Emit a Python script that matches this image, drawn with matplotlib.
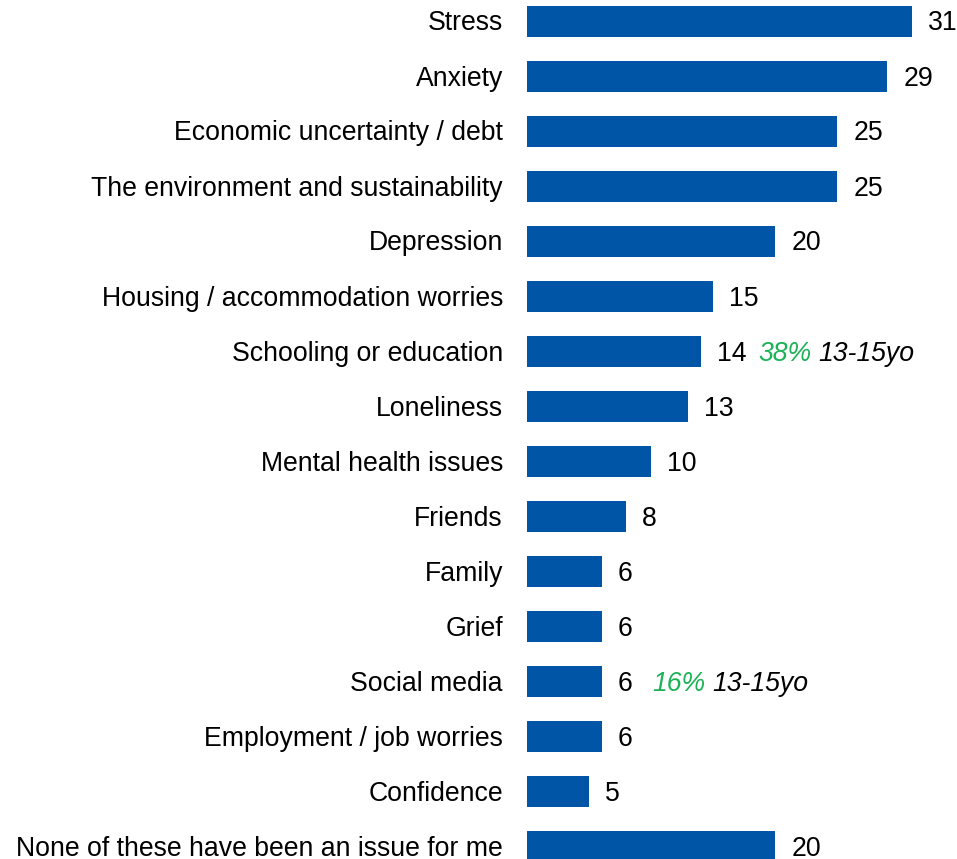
import matplotlib
matplotlib.use("Agg")
import matplotlib.pyplot as plt

categories = [
    "Stress",
    "Anxiety",
    "Economic uncertainty / debt",
    "The environment and sustainability",
    "Depression",
    "Housing / accommodation worries",
    "Schooling or education",
    "Loneliness",
    "Mental health issues",
    "Friends",
    "Family",
    "Grief",
    "Social media",
    "Employment / job worries",
    "Confidence",
    "None of these have been an issue for me",
]
values = [31, 29, 25, 25, 20, 15, 14, 13, 10, 8, 6, 6, 6, 6, 5, 20]

# Age-group callouts: category -> (highlight share, age band)
callouts = {
    "Schooling or education": ("38%", "13-15yo"),
    "Social media": ("16%", "13-15yo"),
}

BAR_COLOR = "#0055A6"
GREEN = "#1DB257"
TEXT = "#000000"
FONT = ["Liberation Sans", "Arial", "DejaVu Sans"]
FS = 19.2

plt.rcParams["font.family"] = FONT

fig = plt.figure(figsize=(9.57, 8.59), dpi=100)
ax = fig.add_axes([0, 0, 1, 1])

px_per_unit = 385 / 31.0
left_px, width_px = 527.0, 957.0
x0 = -left_px / px_per_unit
x1 = (width_px - left_px) / px_per_unit

pos = list(range(len(categories)))
ax.barh(pos, values, height=0.565, color=BAR_COLOR, edgecolor="none")

ax.set_xlim(x0, x1)
step = 55.0
first = 21.5
ax.set_ylim((859 - first) / step, -first / step)
ax.axis("off")

label_gap = 24 / px_per_unit
value_gap = 16 / px_per_unit
dy = 2.0 / step  # nudge text slightly below bar centre

inv = ax.transData.inverted()

for i, (cat, v) in enumerate(zip(categories, values)):
    ax.text(-label_gap, i + dy, cat, ha="right", va="center", fontsize=FS, color=TEXT)
    t = ax.text(v + value_gap, i + dy, str(v), ha="left", va="center", fontsize=FS, color=TEXT)
    if cat in callouts:
        share, band = callouts[cat]
        fig.canvas.draw()
        xend = inv.transform((t.get_window_extent().x1, 0))[0]
        extra = 12 / px_per_unit if v >= 10 else 20 / px_per_unit
        t2 = ax.text(xend + extra, i + dy, share, ha="left", va="center", fontsize=FS,
                     color=GREEN, style="italic")
        fig.canvas.draw()
        xend2 = inv.transform((t2.get_window_extent().x1, 0))[0]
        ax.text(xend2 + 7 / px_per_unit, i + dy, band, ha="left", va="center", fontsize=FS,
                color=TEXT, style="italic")

fig.savefig("out.png", dpi=100)
